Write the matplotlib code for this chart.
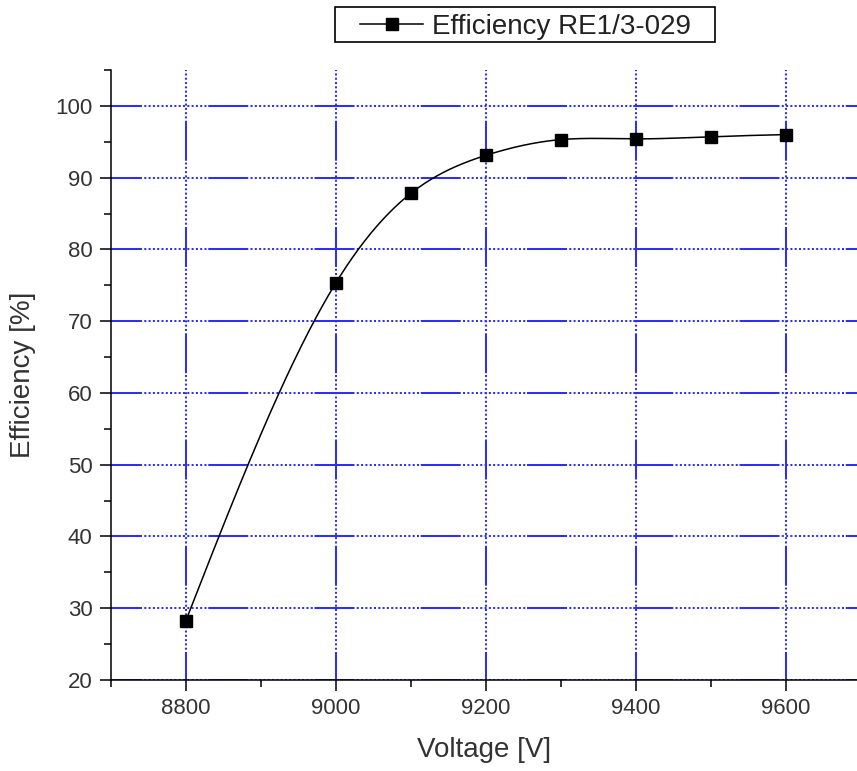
import numpy as np
import matplotlib
matplotlib.use("Agg")
import matplotlib.pyplot as plt
from matplotlib.lines import Line2D
from matplotlib.patches import Rectangle
from matplotlib.ticker import MultipleLocator

plt.rcParams['font.family'] = ['Liberation Sans', 'DejaVu Sans']
plt.rcParams['lines.scale_dashes'] = False

# Measured detector efficiency versus high voltage
voltage = [8800, 9000, 9100, 9200, 9300, 9400, 9500, 9600]
efficiency = [28.2, 75.3, 87.8, 93.1, 95.3, 95.4, 95.7, 96.0]
series_label = "Efficiency RE1/3-029"
x_ticks = [8800, 9000, 9200, 9400, 9600]
y_ticks = [20, 30, 40, 50, 60, 70, 80, 90, 100]


def natural_spline(x, y, n=400):
    """Smooth natural cubic spline through the measured points."""
    x = np.asarray(x, float)
    y = np.asarray(y, float)
    k = len(x)
    h = np.diff(x)
    A = np.zeros((k, k))
    b = np.zeros(k)
    A[0, 0] = A[-1, -1] = 1.0
    for i in range(1, k - 1):
        A[i, i - 1] = h[i - 1]
        A[i, i] = 2 * (h[i - 1] + h[i])
        A[i, i + 1] = h[i]
        b[i] = 6 * ((y[i + 1] - y[i]) / h[i] - (y[i] - y[i - 1]) / h[i - 1])
    m = np.linalg.solve(A, b)
    xs = np.linspace(x[0], x[-1], n)
    idx = np.clip(np.searchsorted(x, xs) - 1, 0, k - 2)
    x0, x1 = x[idx], x[idx + 1]
    hh = x1 - x0
    t0, t1 = x1 - xs, xs - x0
    ys = (m[idx] * t0 ** 3 / (6 * hh) + m[idx + 1] * t1 ** 3 / (6 * hh)
          + (y[idx] / hh - m[idx] * hh / 6) * t0
          + (y[idx + 1] / hh - m[idx + 1] * hh / 6) * t1)
    return xs, ys


W, H = 857, 771
fig = plt.figure(figsize=(W / 100, H / 100), dpi=100)
ax = fig.add_axes([110.7 / W, 1 - 680 / H, 1 - 110.7 / W, (680 - 70) / H])

ax.set_xlim(8700, 9695)
ax.set_ylim(20, 105)

# Grid: long dash followed by a run of dots (lengths in pixels -> points)
px = 0.72
pattern = [40.0]
for _ in range(15):
    pattern += [2.3, 2.0]
pattern.append(1.75)
pattern = tuple(p * px for p in pattern)
grid_blue = '#2e2eff'
ax.grid(axis='y', color=grid_blue, linewidth=1.45,
        linestyle=(9 * px, pattern))
ax.grid(axis='x', color=grid_blue, linewidth=1.45,
        linestyle=(12 * px, pattern))
ax.set_axisbelow(True)

xs, ys = natural_spline(voltage, efficiency)
ax.plot(xs, ys, color='black', linewidth=1.1, zorder=3)
ax.plot(voltage, efficiency, linestyle='none', marker='s', markersize=8.5,
        color='black', zorder=4)

ax.set_xticks(x_ticks)
ax.set_yticks(y_ticks)
ax.xaxis.set_minor_locator(MultipleLocator(100))
ax.yaxis.set_minor_locator(MultipleLocator(5))
ax.tick_params(which='major', direction='out', length=8, width=1.1,
               labelsize=16, labelcolor='#333333', pad=5)
ax.tick_params(which='minor', direction='out', length=5, width=1.1)

for side in ('top', 'right'):
    ax.spines[side].set_visible(False)
for side in ('left', 'bottom'):
    ax.spines[side].set_linewidth(1.1)

ax.set_xlabel('Voltage [V]', fontsize=20, color='#333333', labelpad=13)
ax.set_ylabel('Efficiency [%]', fontsize=20, color='#333333', labelpad=14)

# Legend box above the plot, laid out in figure pixels
def fx(p):
    return p / W


def fy(p):
    return 1 - p / H


fig.patches.append(Rectangle((fx(335), fy(41.7)), fx(715) - fx(335),
                             fy(6.7) - fy(41.7), transform=fig.transFigure,
                             facecolor='white', edgecolor='black',
                             linewidth=1.2))
ly = fy(24)
fig.lines.append(Line2D([fx(360), fx(423)], [ly, ly], transform=fig.transFigure,
                        color='black', linewidth=1.1))
fig.lines.append(Line2D([fx(391.5)], [ly], transform=fig.transFigure,
                        marker='s', markersize=8.5, color='black',
                        linestyle='none'))
fig.text(fx(432), ly, series_label, fontsize=20, color='#222222',
         ha='left', va='center_baseline')

fig.savefig('out.png', dpi=100, facecolor='white')
